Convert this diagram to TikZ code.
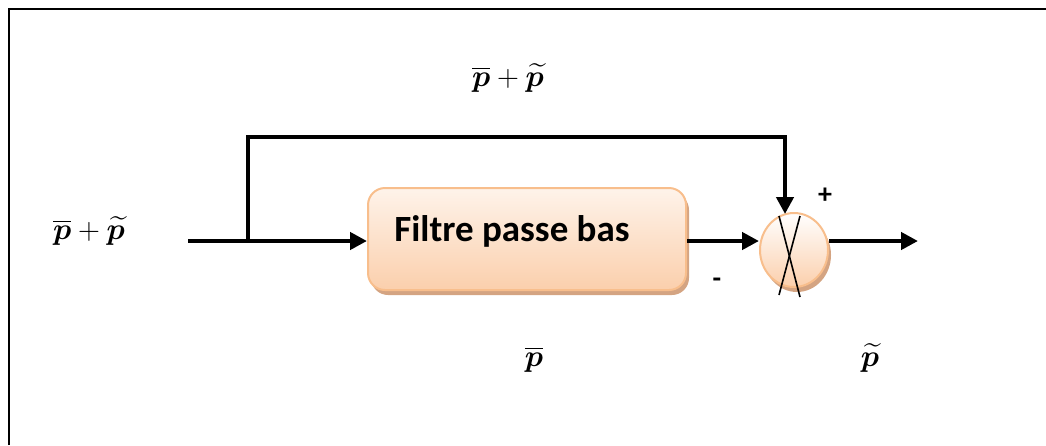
\documentclass[tikz,border=0pt]{standalone}
\usepackage{amsmath}
\usepackage{bm}
\usepackage{graphicx}
\usepackage{fontspec}
\newfontfamily\boxfont{Carlito}
\usetikzlibrary{arrows.meta,shadows,shapes.geometric}
\definecolor{peachborder}{HTML}{F8BE8C}
\definecolor{peachtop}{HTML}{FEF3EA}
\definecolor{peachbot}{HTML}{FBCFAC}
\definecolor{peachshadow}{HTML}{D4A482}
\newcommand{\biglbl}[1]{\scalebox{1.22}{$#1$}}
\tikzset{
  wire/.style={line width=4.5pt},
  arr/.style={wire,-{Triangle[length=17pt,width=17pt]}},
  filterbox/.style={draw=peachborder,line width=2pt,rounded corners=17pt,
    top color=peachtop,bottom color=peachbot,
    drop shadow={shadow xshift=3pt,shadow yshift=-5pt,fill=peachshadow,opacity=1},
    minimum width=318pt,minimum height=102pt,inner sep=0pt},
  sumnode/.style={draw=peachborder,line width=2pt,ellipse,
    top color=white,bottom color=peachbot,
    drop shadow={shadow xshift=3pt,shadow yshift=-5pt,fill=peachshadow,opacity=1},
    minimum width=68pt,minimum height=74pt,inner sep=0pt},
  mathlbl/.style={font=\Huge,inner sep=0pt,anchor=base},
  signlbl/.style={font=\boxfont\bfseries\fontsize{28}{30}\selectfont,inner sep=0pt}
}
\begin{document}
\begin{tikzpicture}[x=1pt,y=-1pt]
\useasboundingbox (0,0) rectangle (1046,445);
% frame (top and left only)
\draw[line width=2.5pt] (9,445) -- (9,9) -- (1046,9);
% nodes
\node[filterbox] (F) at (527,239) {};
\node[anchor=base,inner sep=0pt,font=\boxfont\bfseries\fontsize{37}{40}\selectfont] (Ft) at (512,241) {Filtre passe bas};
\node[sumnode] (S) at (794,250) {};
\draw[line width=1.6pt] (779,216) -- (800,297);
\draw[line width=1.6pt] (800,216) -- (779,295);
\coordinate (in) at (188,241);
\coordinate (br) at (248,241);
\coordinate (brtop) at (248,137);
\coordinate (down) at (785,137);
\coordinate (sumtop) at (785,214);
\coordinate (out) at (918,241);
% connectors
\draw[wire] (in) -- (br);
\draw[arr] (br) -- (F.west |- br);
\draw[wire,line cap=rect] (br) -- (brtop) -- (down) -- ++(0,20);
\draw[arr] (down) -- (sumtop);
\draw[arr] (F.east |- br) -- (S.west |- br);
\draw[arr] (S.east |- br) -- (out);
% labels
\node[mathlbl] (l1) at (89,239) {\biglbl{\overline{\bm{p}}+\widetilde{\bm{p}}}};
\node[mathlbl] (l2) at (508,86) {\biglbl{\overline{\bm{p}}+\widetilde{\bm{p}}}};
\node[mathlbl] (l3) at (534,366) {\biglbl{\overline{\bm{p}}}};
\node[mathlbl] (l4) at (870,366) {\biglbl{\widetilde{\bm{p}}}};
\node[signlbl] (plus) at (825,196) {+};
\node[signlbl] (minus) at (717,283) {-};
\end{tikzpicture}
\end{document}
